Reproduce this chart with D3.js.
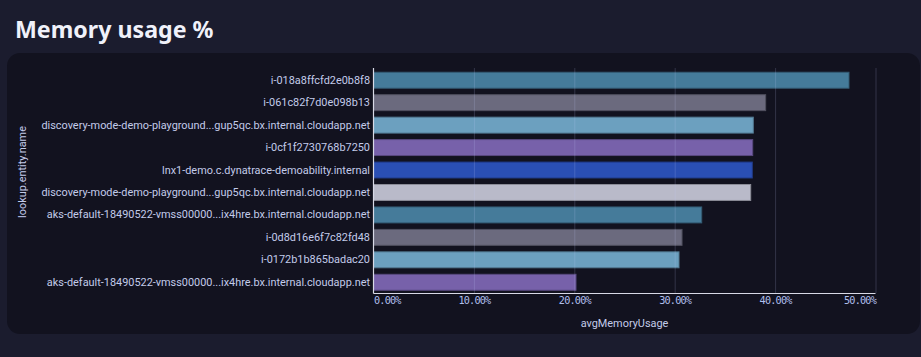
<!DOCTYPE html>
<html><head><meta charset="utf-8">
<script src="https://cdn.jsdelivr.net/npm/d3@7"></script>
<style>
html,body{margin:0;padding:0;background:#1b1c2e;}
svg{display:block;}
</style></head><body>
<svg id="chart" width="921" height="357"></svg>
<script>
const categories = [
  "i-018a8ffcfd2e0b8f8",
  "i-061c82f7d0e098b13",
  "discovery-mode-demo-playground...gup5qc.bx.internal.cloudapp.net",
  "i-0cf1f2730768b7250",
  "lnx1-demo.c.dynatrace-demoability.internal",
  "discovery-mode-demo-playground...gup5qc.bx.internal.cloudapp.net ",
  "aks-default-18490522-vmss00000...ix4hre.bx.internal.cloudapp.net",
  "i-0d8d16e6f7c82fd48",
  "i-0172b1b865badac20",
  "aks-default-18490522-vmss00000...ix4hre.bx.internal.cloudapp.net "
];
const values = [47.36, 39.06, 37.83, 37.77, 37.73, 37.57, 32.69, 30.73, 30.43, 20.17];
const barColors = ["#457b9a","#6b6a7e","#6ca0bf","#7761aa","#2a4fb4","#b9bac9","#457b9a","#6b6a7e","#6ca0bf","#7761aa"];
const xTicks = [0, 10, 20, 30, 40, 50];
const title = "Memory usage %";
const xTitle = "avgMemoryUsage";
const yTitle = "lookup.entity.name";

const svg = d3.select("#chart");
svg.append("rect").attr("x",7).attr("y",53).attr("width",913).attr("height",281).attr("rx",13).attr("fill","#12121f");
svg.append("text").attr("x",15).attr("y",38).text(title)
  .attr("fill","#f0f1fa").attr("font-family","'Noto Sans', sans-serif").attr("font-weight","bold").attr("font-size",23.2);

const x = d3.scaleLinear().domain([0,50]).range([373.5,875.5]);
const y = d3.scaleBand().domain(categories).range([69,293.5]).paddingInner(0.29).paddingOuter(0.145);

const g = svg.append("g");
g.selectAll("rect.bar").data(values).join("rect").attr("class","bar")
  .attr("x",x(0)).attr("y",(d,i)=>y(categories[i]))
  .attr("width",d=>x(d)-x(0)).attr("height",y.bandwidth())
  .attr("fill",(d,i)=>barColors[i])
  .attr("stroke",(d,i)=>d3.color(barColors[i]).darker(0.8)).attr("stroke-width",1);

// grid
g.selectAll("line.grid").data(xTicks.slice(1)).join("line").attr("class","grid")
  .attr("x1",d=>x(d)+0.5).attr("x2",d=>x(d)+0.5).attr("y1",68).attr("y2",293)
  .attr("stroke","rgba(200,205,255,0.18)").attr("stroke-width",1);

// axes lines
svg.append("line").attr("x1",x(0)).attr("x2",x(0)).attr("y1",68).attr("y2",293.5).attr("stroke","#d8d9e6").attr("stroke-width",1.2);
svg.append("line").attr("x1",x(0)).attr("x2",x(50)).attr("y1",293.5).attr("y2",293.5).attr("stroke","#d8d9e6").attr("stroke-width",1.2);

// y labels
const yAxis = d3.axisLeft(y).tickSize(0).tickPadding(3);
const ya = svg.append("g").attr("transform",`translate(${x(0)-0.5},0)`).call(yAxis);
ya.select(".domain").remove();
ya.selectAll("text").attr("fill","#c3cbea").attr("font-family","Roboto, sans-serif").attr("font-size",10.9);

// x ticks
const xa = svg.append("g").attr("transform","translate(0,293.5)")
  .call(d3.axisBottom(x).tickValues(xTicks).tickSize(0).tickPadding(3).tickFormat(d=>d3.format(".2f")(d)+"%"));
xa.select(".domain").remove();
xa.selectAll("text").attr("fill","#b0bfec").attr("font-family","'DejaVu Sans Mono', monospace").attr("font-size",10.2)
  .attr("letter-spacing",-0.8)
  .attr("text-anchor",(d,i)=>i===0?"start":(i===xTicks.length-1?"end":"middle"));

svg.append("text").attr("x",(x(0)+x(50))/2).attr("y",327).attr("text-anchor","middle").text(xTitle)
  .attr("fill","#c3cbea").attr("font-family","Roboto, sans-serif").attr("font-size",10.9);
svg.append("text").attr("transform","translate(26,172) rotate(-90)").attr("text-anchor","middle").text(yTitle)
  .attr("fill","#c3cbea").attr("font-family","Roboto, sans-serif").attr("font-size",10.9);
</script></body></html>
